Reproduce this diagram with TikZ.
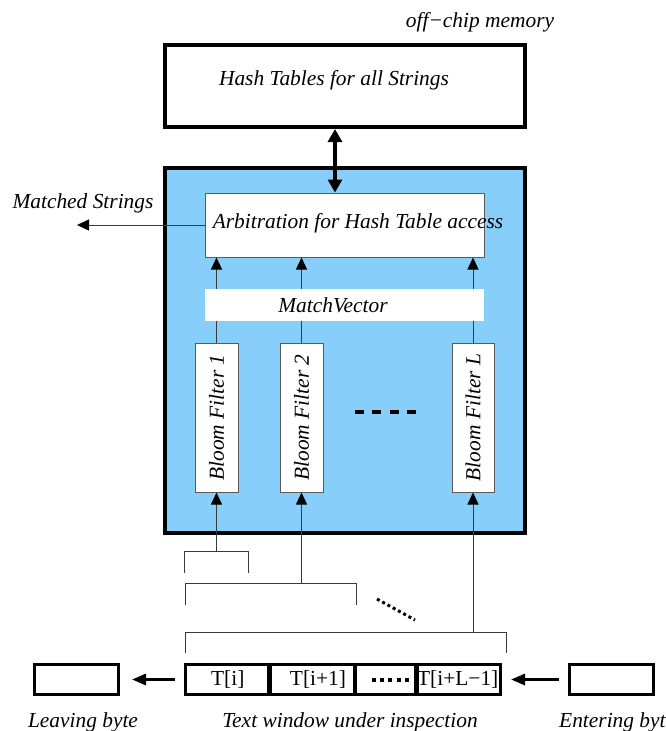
\documentclass[tikz,border=0pt]{standalone}
\usepackage{fontspec}
\setmainfont{Liberation Serif}
\usetikzlibrary{arrows.meta,positioning}
\definecolor{chipfill}{HTML}{87CEFA}
\definecolor{wiregray}{HTML}{3A3A3A}
\definecolor{edgegray}{HTML}{5A5A5A}
\newcommand{\figfont}{\fontsize{21.4}{25}\selectfont}
\tikzset{
  memorybox/.style={
    draw=black,
    fill=white,
    line width=4pt,
    minimum width=360pt,
    minimum height=82pt,
    inner sep=0pt,
  },
  chipbox/.style={
    draw=black,
    fill=chipfill,
    line width=4pt,
    minimum width=360pt,
    minimum height=365pt,
    inner sep=0pt,
  },
  arbbox/.style={
    draw=edgegray,
    fill=white,
    line width=1pt,
    minimum width=279pt,
    minimum height=64pt,
    inner sep=0pt,
  },
  vectorbar/.style={
    fill=white,
    minimum width=279pt,
    minimum height=32pt,
    inner sep=0pt,
  },
  filterbox/.style={
    draw=edgegray,
    fill=white,
    line width=1pt,
    minimum width=43pt,
    minimum height=149pt,
    inner sep=0pt,
  },
  cell/.style={
    draw=black,
    line width=3pt,
    minimum height=30pt,
    inner sep=0pt,
    outer sep=0pt,
    font=\figfont,
  },
  bytebox/.style={
    draw=black,
    line width=3pt,
    minimum width=84pt,
    minimum height=30pt,
    inner sep=0pt,
  },
  itlabel/.style={
    inner sep=0pt,
    font=\figfont\itshape,
  },
  wire/.style={
    draw=wiregray,
    line width=1pt,
  },
  tap arrow/.style={
    -{Triangle[length=12pt,width=11pt,color=black]},
    draw=wiregray,
    line width=1pt,
  },
  bus arrow/.style={
    {Triangle[length=13pt,width=14pt]}-{Triangle[length=13pt,width=14pt]},
    line width=3.5pt,
  },
  shift arrow/.style={
    -{Triangle[length=14pt,width=11pt]},
    line width=3pt,
  },
}

\begin{document}
\begin{tikzpicture}[x=1pt, y=-1pt]
  \useasboundingbox (0,0) rectangle (666,731);

  % off-chip part
  \node[memorybox] (hash) at (345,86) {};
  \node[itlabel] (hashtext) at (334,80) {Hash Tables for all Strings};
  \node[itlabel] (offchip) at (480,22) {off−chip memory};

  % on-chip part
  \node[chipbox] (chip) at (345,350.5) {};
  \node[arbbox] (arb) at (344.5,225) {};
  \node[itlabel] (arbtext) at (358,223) {Arbitration for Hash Table access};

  \node[filterbox] (bf1) at (216.5,417.5) {};
  \node[filterbox] (bf2) at (301.5,417.5) {};
  \node[filterbox, minimum width=42pt] (bfl) at (473,417.5) {};
  \node[itlabel, rotate=90] at (bf1.center) {Bloom Filter 1};
  \node[itlabel, rotate=90] at (bf2.center) {Bloom Filter 2};
  \node[itlabel, rotate=90] at (bfl.center) {Bloom Filter L};
  \draw[line width=3.5pt, dash pattern=on 9pt off 8.3pt] (355,412) -- (416,412);

  \foreach \f in {bf1,bf2,bfl}
    \draw[tap arrow] (\f.north) -- (\f.north |- arb.south);

  \node[vectorbar] (mvec) at (344.5,305) {};
  \node[itlabel] (mvectext) at (333,305) {MatchVector};

  \coordinate (bus) at (335,0);
  \draw[bus arrow] (hash.south -| bus) -- (arb.north -| bus);

  \coordinate (matchout) at (77,225);
  \draw[tap arrow] (arb.west) -- (matchout);
  \node[itlabel] (matched) at (83,203) {Matched Strings};

  % text window
  \node[cell, minimum width=84.5pt] (c1) at (227.75,679.5) {T[i]};
  \node[cell, minimum width=87pt, right=0pt of c1, xshift=-1.5pt] (c2) {\hspace{12pt}T[i+1]};
  \node[cell, minimum width=63pt, right=0pt of c2, xshift=-1.5pt] (c3) {};
  \node[cell, minimum width=84.5pt, right=0pt of c3, xshift=-1.5pt] (c4) {T[i+L−1]};
  \draw[line width=3.5pt, dash pattern=on 4pt off 4.2pt] (372,680) -- (409,680);

  \node[bytebox] (leave) at (76.5,679.5) {};
  \node[bytebox] (enter) at (611.5,679.5) {};
  \draw[shift arrow, shorten <=11pt, shorten >=12pt] (c1.west) -- (leave.east);
  \draw[shift arrow, shorten <=9pt, shorten >=11pt] (enter.west) -- (c4.east);

  \node[itlabel] (leavetext) at (83,722) {Leaving byte};
  \node[itlabel] (wintext) at (350,722) {Text window under inspection};
  \node[itlabel, anchor=west] (entertext) at (559,722) {Entering byte};

  % taps from the window
  \coordinate (tap1) at (bf1.south |- 0,551);
  \coordinate (tap2) at (bf2.south |- 0,583);
  \coordinate (tapl) at (bfl.south |- 0,632);
  \draw[wire] (184,573) |- (248,551) -- (248,573);
  \draw[wire] (185,605) |- (356,583) -- (356,605);
  \draw[wire] (185,653) |- (506,632) -- (506,653);
  \draw[tap arrow] (tap1) -- (bf1.south);
  \draw[tap arrow] (tap2) -- (bf2.south);
  \draw[tap arrow] (tapl) -- (bfl.south);
  \draw[line width=3pt, dash pattern=on 3pt off 3pt] (377,599) -- (415,620);
\end{tikzpicture}
\end{document}
